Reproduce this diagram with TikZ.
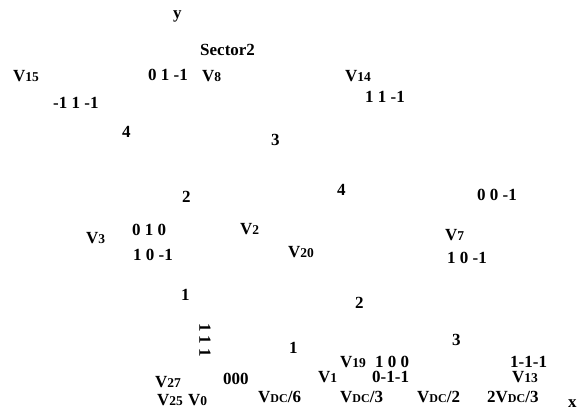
\documentclass[tikz,border=0pt]{standalone}
\usepackage{fontspec}
\setmainfont{Liberation Serif}
\newcommand{\Vs}[1]{V{\fontsize{13.5}{12}\selectfont #1}}
\newcommand{\Vdc}{V{\fontsize{12}{12}\selectfont DC}}
\begin{document}
\begin{tikzpicture}[x=1pt, y=-1pt, lbl/.style={anchor=base west, inner sep=0pt, font=\fontsize{17}{20}\selectfont\bfseries}]
				% 1. 画布外框 (580 x 415)
				\useasboundingbox (0,0) rectangle (580,415);
				
				% 2. 坐标轴标号
				\node[lbl] (axY) at (173,18) {y};
				\node[lbl] (axX) at (568,407) {x};
				\node[lbl] (sec2) at (200,55) {Sector2};
				
				% 3. 上部矢量与开关状态
				\node[lbl] (v15) at (13,81) {\Vs{15}};
				\node[lbl] (s8) at (148,80) {0 1 -1};
				\node[lbl] (v8) at (202,81) {\Vs{8}};
				\node[lbl] (v14) at (345,81) {\Vs{14}};
				\node[lbl] (s14) at (365,102) {1 1 -1};
				\node[lbl] (s15) at (53,108) {-1 1 -1};
				
				% 4. 三角形区域编号
				\node[lbl] (rA4) at (122,137) {4};
				\node[lbl] (rA3) at (271,145) {3};
				\node[lbl] (rB2) at (182,202) {2};
				\node[lbl] (rB4) at (337,195) {4};
				\node[lbl] (rC1) at (181,300) {1};
				\node[lbl] (rC2) at (355,308) {2};
				\node[lbl] (rC3) at (452,345) {3};
				\node[lbl] (rD1) at (289,353) {1};
				
				% 5. 中部矢量
				\node[lbl] (s7a) at (477,200) {0 0 -1};
				\node[lbl] (s3a) at (132,235) {0 1 0};
				\node[lbl] (v3) at (86,243) {\Vs{3}};
				\node[lbl] (s3b) at (133,260) {1 0 -1};
				\node[lbl] (v2) at (240,234) {\Vs{2}};
				\node[lbl] (v20) at (288,257) {\Vs{20}};
				\node[lbl] (v7) at (445,240) {\Vs{7}};
				\node[lbl] (s7b) at (447,263) {1 0 -1};
				
				% 6. 零矢量与下部矢量
				\node[lbl, anchor=center, rotate=-90] (s27) at (205,340) {1 1 1};
				\node[lbl] (v19) at (340,367) {\Vs{19}};
				\node[lbl] (s19) at (375,367) {1 0 0};
				\node[lbl] (s13) at (510,367) {1-1-1};
				\node[lbl] (v27) at (155,387) {\Vs{27}};
				\node[lbl] (s0) at (223,384) {000};
				\node[lbl] (v1) at (318,382) {\Vs{1}};
				\node[lbl] (s1) at (372,382) {0-1-1};
				\node[lbl] (v13) at (512,382) {\Vs{13}};
				\node[lbl] (v25) at (157,405) {\Vs{25}};
				\node[lbl] (v0) at (188,405) {\Vs{0}};
				
				% 7. x 轴刻度
				\node[lbl] (t1) at (258,402) {\Vdc/6};
				\node[lbl] (t2) at (340,402) {\Vdc/3};
				\node[lbl] (t3) at (417,402) {\Vdc/2};
				\node[lbl] (t4) at (487,402) {2\Vdc/3};
			\end{tikzpicture}
\end{document}
